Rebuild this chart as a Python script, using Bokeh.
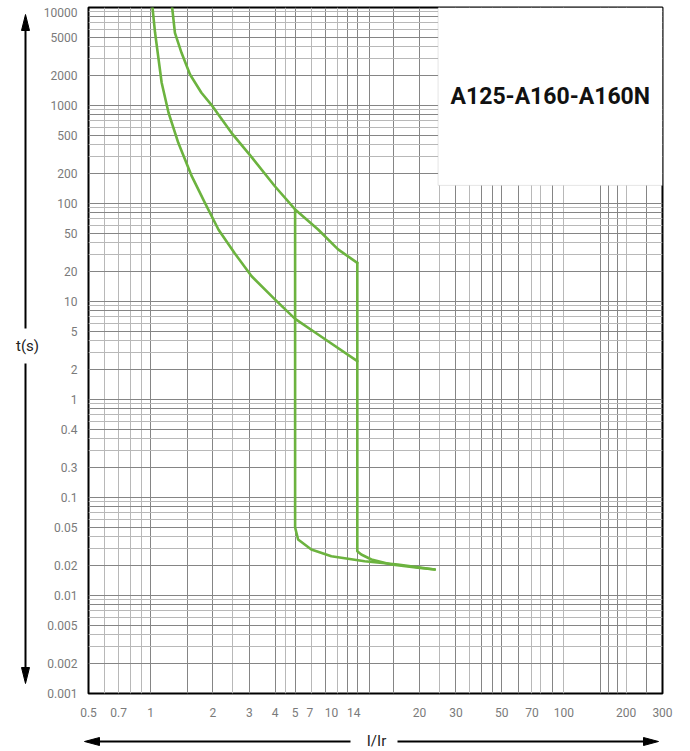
from bokeh.plotting import figure
from bokeh.layouts import row, column
from bokeh.models import Range1d, FixedTicker, Grid, BoxAnnotation, Label
from bokeh.core.properties import value
from bokeh.embed import file_html
from bokeh.resources import INLINE

# ---------------- data ----------------
# thermal band, lower boundary
lower_x = [1.02, 1.05, 1.13, 1.22, 1.36, 1.58, 1.83, 2.13, 2.55, 3.08, 3.99, 5.0, 6.46, 10.0]
lower_t = [10000, 5520, 1706, 843, 416, 190, 101.6, 54, 31, 18.1, 10.5, 6.65, 4.6, 2.46]
# thermal band, upper boundary
upper_x = [1.27, 1.31, 1.41, 1.55, 1.76, 1.99, 2.46, 3.08, 3.99, 5.0, 6.46, 8.07, 10.0]
upper_t = [10000, 5520, 3450, 2070, 1349, 984, 526, 297, 150, 86.9, 54.3, 34, 24.8]
# magnetic trip at the lower setting
trip_lo_x = [5.0, 5.0, 5.17, 5.99, 7.49, 10.85, 15.7, 23.7]
trip_lo_t = [86.9, 0.0494, 0.0373, 0.0295, 0.0252, 0.0224, 0.0207, 0.0184]
# magnetic trip at the upper setting
trip_hi_x = [10.0, 10.0, 10.45, 11.7, 14.6, 19.6, 23.7]
trip_hi_t = [24.8, 0.0283, 0.0262, 0.0233, 0.0207, 0.0192, 0.0184]

# tick positions and the labels printed on the reference
x_tick_values = [0.5, 0.7, 1, 2, 3, 4, 5, 5.9, 7.5, 9.6, 20, 30, 50, 70, 100, 200, 300]
x_tick_labels = ["0.5", "0.7", "1", "2", "3", "4", "5", "7", "10", "14",
                 "20", "30", "50", "70", "100", "200", "300"]
y_tick_values = [8900, 5000, 2000, 1000, 500, 200, 100, 50, 20, 10, 5, 2, 1,
                 0.5, 0.2, 0.1, 0.05, 0.02, 0.01, 0.005, 0.002, 0.001]
y_tick_labels = ["10000", "5000", "2000", "1000", "500", "200", "100", "50", "20", "10",
                 "5", "2", "1", "0.4", "0.3", "0.1", "0.05", "0.02", "0.01", "0.005",
                 "0.002", "0.001"]

# grid lines
x_grid_dark = [1, 1.5, 2, 3, 4, 5, 7, 9, 10, 11.5, 15, 20, 30, 40, 45, 50, 60, 88, 150, 165, 182, 250]
x_grid_light = [0.6, 0.7, 0.8, 0.9, 2.5, 4.5, 6, 8, 25, 35, 70, 77, 100, 200]
decades = [0.001, 0.01, 0.1, 1, 10, 100, 1000]
y_grid_dark = [n * d for d in decades for n in (1, 2, 5, 8)] + [10000]
y_grid_light = [n * d for d in decades for n in (3, 4, 6, 7, 9)]

title_text = "A125-A160-A160N"
x_caption = "I/Ir"
y_caption = "t(s)"
box_left, box_right, box_bottom, box_top = 24.6, 300, 153, 10000

GREEN = "#6cb33f"
FONT = "Roboto"

# page geometry (pixels)
W, H = 690, 751
STRIP_L = 40          # left strip holding the t(s) arrow
STRIP_B = 23          # bottom strip holding the I/Ir arrow
FRAME_L, FRAME_R, FRAME_T, FRAME_B = 87, 662, 7, 693

# ---------------- main chart ----------------
p = figure(width=W - STRIP_L, height=H - STRIP_B, x_axis_type="log", y_axis_type="log",
           x_range=Range1d(0.5, 300), y_range=Range1d(0.001, 10000),
           output_backend="svg", toolbar_location=None,
           min_border_left=FRAME_L - STRIP_L, min_border_right=W - FRAME_R,
           min_border_top=FRAME_T, min_border_bottom=H - STRIP_B - FRAME_B,
           background_fill_color="white", border_fill_color="white")

p.outline_line_color = "black"
p.outline_line_width = 2

for ax in (p.xaxis[0], p.yaxis[0]):
    ax.axis_line_color = None
    ax.major_tick_line_color = None
    ax.minor_tick_line_color = None
    ax.major_tick_out = 0
    ax.major_tick_in = 0
    ax.minor_tick_out = 0
    ax.major_label_text_font = FONT
    ax.major_label_text_font_size = "12px"
    ax.major_label_text_color = "#7a7a7a"

p.xaxis[0].ticker = FixedTicker(ticks=x_tick_values)
p.xaxis[0].major_label_overrides = {v: s for v, s in zip(x_tick_values, x_tick_labels)}
p.xaxis[0].major_label_standoff = 14
p.yaxis[0].ticker = FixedTicker(ticks=y_tick_values)
p.yaxis[0].major_label_overrides = {v: s for v, s in zip(y_tick_values, y_tick_labels)}
p.yaxis[0].major_label_standoff = 11

p.xgrid.visible = False
p.ygrid.visible = False
for dim, ticks, col in ((0, x_grid_light, "#b8b8b8"), (0, x_grid_dark, "#858585"),
                        (1, y_grid_light, "#b8b8b8"), (1, y_grid_dark, "#858585")):
    p.add_layout(Grid(dimension=dim, ticker=FixedTicker(ticks=ticks),
                      grid_line_color=col, grid_line_width=1))

for xs, ts in ((lower_x, lower_t), (upper_x, upper_t), (trip_lo_x, trip_lo_t), (trip_hi_x, trip_hi_t)):
    p.line(xs, ts, line_color=GREEN, line_width=2.6, line_join="round", line_cap="round")

p.add_layout(BoxAnnotation(left=box_left, right=box_right, bottom=box_bottom, top=box_top,
                           fill_color="white", fill_alpha=1.0,
                           line_color="#a8a8a8", line_width=1))
p.add_layout(Label(x=(box_left * box_right) ** 0.5, y=(box_bottom * box_top) ** 0.5,
                   text=title_text, text_font=FONT, text_font_style="bold",
                   text_font_size="23px", text_color="#111111",
                   text_align="center", text_baseline="middle"))

# ---------------- decorative strips (ranges in page pixels, y downwards) ----------------
def strip(width, height, x0, x1, y0, y1):
    s = figure(width=width, height=height, x_range=Range1d(x0, x1), y_range=Range1d(y1, y0),
               output_backend="svg", toolbar_location=None,
               x_axis_location=None, y_axis_location=None,
               min_border=0, min_border_left=0, min_border_right=0,
               min_border_top=0, min_border_bottom=0,
               background_fill_color="white", border_fill_color="white")
    s.frame_align = False
    s.outline_line_color = None
    s.xgrid.visible = False
    s.ygrid.visible = False
    return s

left = strip(STRIP_L, H, 0, STRIP_L, 0, H)
left.segment(x0=[25, 25], y0=[28, 363], x1=[25, 25], y1=[328, 669], line_color="black", line_width=2)
left.patches(xs=[[25, 21, 29], [25, 21, 29]], ys=[[14, 30, 30], [683, 667, 667]],
             fill_color="black", line_color="black", line_width=1)
left.text(x=[27], y=[345], text=[y_caption], text_font=value(FONT), text_font_size="15px",
          text_color="#222222", text_align="center", text_baseline="middle")

bottom = strip(W - STRIP_L, STRIP_B, STRIP_L, W, H - STRIP_B, H)
bottom.segment(x0=[97, 397], y0=[741, 741], x1=[350, 645], y1=[741, 741],
               line_color="black", line_width=2)
bottom.patches(xs=[[84, 99, 99], [658, 643, 643]], ys=[[741, 737, 745], [741, 737, 745]],
               fill_color="black", line_color="black", line_width=1)
bottom.text(x=[376], y=[740], text=[x_caption], text_font=value(FONT), text_font_size="15px",
            text_color="#222222", text_align="center", text_baseline="middle")

layout = row(left, column(p, bottom, spacing=0), spacing=0)

open("out.html", "w").write(file_html(layout, INLINE))
